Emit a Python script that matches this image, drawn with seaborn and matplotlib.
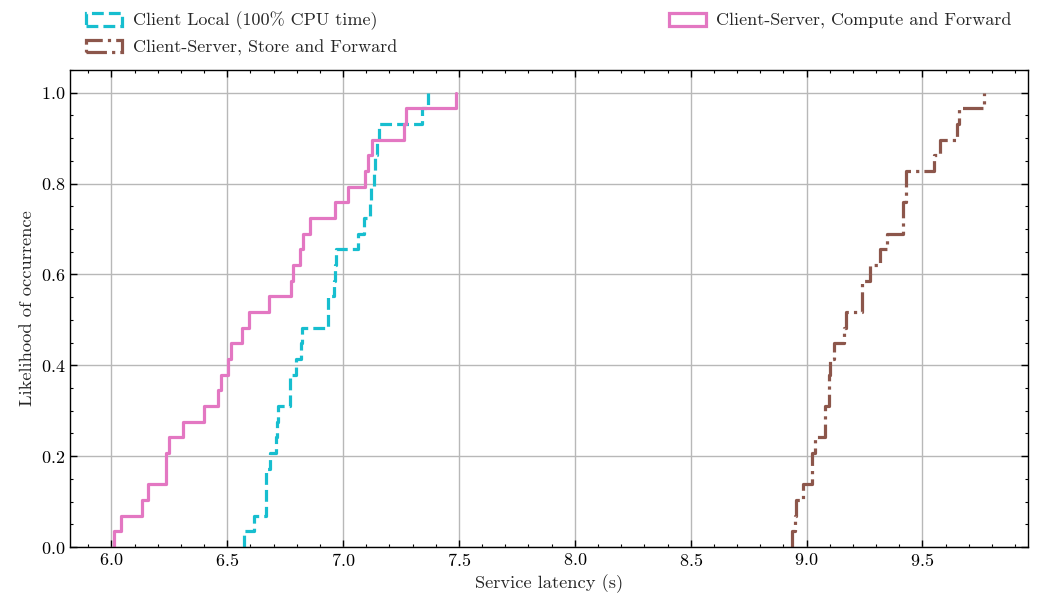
import numpy as np
import pandas as pd
import matplotlib
matplotlib.use("Agg")
import matplotlib.pyplot as plt
from matplotlib.patches import Patch
from matplotlib.ticker import MultipleLocator
import seaborn as sns

# ---- data (service latency samples, seconds) ----
client_local = [6.574, 6.614, 6.666, 6.667, 6.669, 6.686, 6.712, 6.713, 6.718, 6.770,
                6.771, 6.795, 6.817, 6.823, 6.934, 6.935, 6.962, 6.965, 6.971, 7.066,
                7.088, 7.115, 7.122, 7.135, 7.136, 7.147, 7.154, 7.341, 7.365]
store_forward = [8.938, 8.952, 8.953, 8.985, 9.023, 9.024, 9.035, 9.078, 9.079, 9.096,
                 9.097, 9.103, 9.117, 9.161, 9.172, 9.240, 9.241, 9.276, 9.316, 9.348,
                 9.416, 9.417, 9.428, 9.429, 9.551, 9.574, 9.650, 9.660, 9.768]
compute_forward = [6.009, 6.042, 6.132, 6.158, 6.236, 6.237, 6.249, 6.308, 6.398, 6.459,
                   6.473, 6.502, 6.514, 6.564, 6.593, 6.682, 6.773, 6.784, 6.816, 6.827,
                   6.856, 6.964, 7.020, 7.095, 7.108, 7.123, 7.262, 7.273, 7.485]

labels = ["Client Local (100% CPU time)",
          "Client-Server, Store and Forward",
          "Client-Server, Compute and Forward"]
series = [client_local, store_forward, compute_forward]
colors = ["#17becf", "#8c564b", "#e377c2"]
styles = ["--", "-.", "-"]

sns.set_style("ticks")
plt.rcParams["font.family"] = ["cmr10", "DejaVu Serif"]
plt.rcParams["axes.formatter.use_mathtext"] = True
plt.rcParams["mathtext.fontset"] = "cm"

fig = plt.figure(figsize=(10.38, 5.94), dpi=100)
ax = fig.add_axes([0.0674, 0.0791, 0.9230, 0.8030])

lw = 2.3
for vals, lab, col, ls in zip(series, labels, colors, styles):
    sns.ecdfplot(x=np.array(vals), ax=ax, color=col, linestyle=ls, linewidth=lw, label=lab)

ax.set_ylim(0, 1.05)
ax.xaxis.set_major_locator(MultipleLocator(0.5))
ax.xaxis.set_minor_locator(MultipleLocator(0.1))
ax.yaxis.set_major_locator(MultipleLocator(0.2))
ax.yaxis.set_minor_locator(MultipleLocator(0.05))
ax.tick_params(which="both", direction="in", top=True, right=True, labelsize=13, colors="black")
ax.tick_params(which="major", length=5, width=1)
ax.tick_params(which="minor", length=2.5, width=0.8)
ax.grid(True, which="major", color="#b8b8b8", linewidth=1.0)
ax.set_axisbelow(True)
for s in ax.spines.values():
    s.set_linewidth(1.0)
    s.set_color("black")

ax.set_xlabel("Service latency (s)", fontsize=13.3)
ax.set_ylabel("Likelihood of occurrence", fontsize=13.3)

handles = [Patch(facecolor="none", edgecolor=c, linestyle=l, linewidth=lw)
           for c, l in zip(colors, styles)]
ax.legend(handles, labels, loc="lower left", bbox_to_anchor=(0, 0.996, 1, 0.2),
          mode="expand", ncol=2, frameon=False, fontsize=13, borderaxespad=0.5,
          handletextpad=0.6)

fig.savefig("out.png", dpi=100)
